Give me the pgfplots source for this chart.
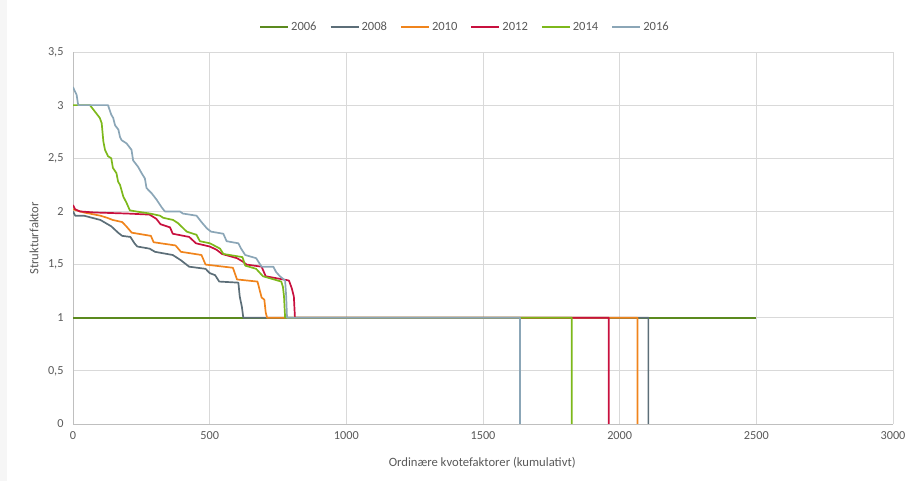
\documentclass[border=0pt]{standalone}
\usepackage{fontspec}
\setmainfont{Carlito}
\usepackage{pgfplots}
\pgfplotsset{compat=1.18}
\definecolor{c2006}{HTML}{5B8A1E}
\definecolor{c2008}{HTML}{5C6E78}
\definecolor{c2010}{HTML}{F0841C}
\definecolor{c2012}{HTML}{C8103E}
\definecolor{c2014}{HTML}{7DB81B}
\definecolor{c2016}{HTML}{8BA6B7}
\definecolor{gridc}{HTML}{D9D9D9}
\definecolor{axc}{HTML}{BFBFBF}
\definecolor{txtc}{HTML}{595959}
\begin{document}
\begin{tikzpicture}
\path[use as bounding box] (0,0) rectangle (906bp,481bp);
\fill[color={rgb,255:red,246;green,246;blue,246}] (0,0) rectangle (7bp,481bp);
\begin{axis}[
  at={(73bp,57bp)}, anchor=south west,
  width=820bp, height=372bp, scale only axis,
  xmin=0, xmax=3000, ymin=0, ymax=3.5,
  xtick={0,500,...,3000}, ytick={0,0.5,...,3.5},
  axis x line*=bottom, axis y line*=left,
  axis line style={draw=axc, line width=0.8bp, -},
  grid=major, major grid style={draw=gridc, line width=0.8bp},
  major tick length=0pt,
  tick label style={font=\fontsize{12.3}{14}\selectfont, text=txtc},
  /pgf/number format/assume math mode=true,
  /pgf/number format/use comma,
  /pgf/number format/1000 sep={},
  yticklabel style={xshift=-6bp},
  xticklabel style={yshift=-4bp},
  xlabel={Ordinære kvotefaktorer (kumulativt)},
  ylabel={Strukturfaktor},
  label style={font=\fontsize{12.7}{15}\selectfont, text=txtc},
  xlabel style={at={(axis description cs:0.499,-0.105)}, anchor=center},
  ylabel style={at={(axis description cs:-0.0476,0.499)}, anchor=center},
  legend columns=6,
  legend style={at={(axis description cs:0.478,1.067)}, anchor=center, draw=none, fill=none,
    font=\fontsize{12.6}{14}\selectfont, text=txtc,
    /tikz/every even column/.append style={column sep=11bp}},
  legend image code/.code={\draw[#1, line width=2bp] (0bp,0bp) -- (28bp,0bp);},
  every axis plot/.append style={line width=1.7bp, line join=round},
]
\addplot[c2006] coordinates {(0,1) (2500,1)};
\addlegendentry{2006}
\addplot[c2008] coordinates {(0,2.0) (8,1.96) (40,1.96) (70,1.94) (100,1.92) (120,1.89) (140,1.86) (165,1.80) (180,1.77) (210,1.76) (225,1.70) (235,1.67) (280,1.65) (300,1.62) (365,1.59) (395,1.54) (410,1.51) (425,1.48) (485,1.46) (500,1.42) (520,1.40) (535,1.34) (605,1.33) (610,1.2) (618,1.1) (623,1.0) (2105,1.0) (2105,0)};
\addlegendentry{2008}
\addplot[c2010] coordinates {(0,2.02) (40,1.99) (100,1.96) (125,1.94) (145,1.92) (180,1.90) (195,1.86) (215,1.80) (285,1.77) (295,1.71) (375,1.68) (395,1.62) (470,1.59) (485,1.50) (585,1.47) (600,1.36) (675,1.34) (690,1.19) (700,1.17) (705,1.05) (710,1.0) (2065,1.0) (2065,0)};
\addlegendentry{2010}
\addplot[c2012] coordinates {(0,2.06) (8,2.02) (25,2.0) (80,1.99) (200,1.98) (280,1.97) (305,1.93) (320,1.88) (355,1.85) (365,1.79) (425,1.76) (450,1.70) (500,1.67) (525,1.64) (545,1.60) (600,1.56) (620,1.53) (635,1.50) (690,1.48) (705,1.39) (790,1.35) (800,1.28) (808,1.2) (812,1.0) (1960,1.0) (1960,0)};
\addlegendentry{2012}
\addplot[c2014] coordinates {(0,3.0) (62,3.0) (80,2.94) (98,2.88) (105,2.83) (111,2.66) (117,2.58) (128,2.52) (140,2.50) (146,2.41) (159,2.36) (165,2.28) (172,2.25) (184,2.14) (196,2.08) (208,2.01) (230,2.0) (282,1.98) (318,1.96) (330,1.94) (366,1.92) (384,1.89) (416,1.81) (452,1.78) (464,1.72) (501,1.70) (538,1.65) (550,1.60) (620,1.57) (630,1.49) (670,1.46) (695,1.39) (762,1.34) (768,1.29) (772,1.2) (776,1.0) (1825,1.0) (1825,0)};
\addlegendentry{2014}
\addplot[c2016] coordinates {(0,3.17) (5,3.14) (13,3.10) (19,3.0) (128,3.0) (140,2.91) (147,2.88) (154,2.81) (166,2.77) (172,2.70) (178,2.67) (196,2.64) (214,2.58) (220,2.48) (238,2.42) (251,2.36) (263,2.31) (269,2.22) (288,2.17) (306,2.11) (324,2.04) (336,2.00) (391,2.0) (402,1.98) (452,1.96) (470,1.90) (490,1.84) (505,1.81) (550,1.79) (562,1.72) (605,1.70) (615,1.65) (630,1.59) (670,1.56) (690,1.48) (733,1.48) (743,1.43) (757,1.39) (776,1.35) (780,1.2) (783,1.0) (1635,1.0) (1635,0)};
\addlegendentry{2016}
\end{axis}
\end{tikzpicture}
\end{document}
